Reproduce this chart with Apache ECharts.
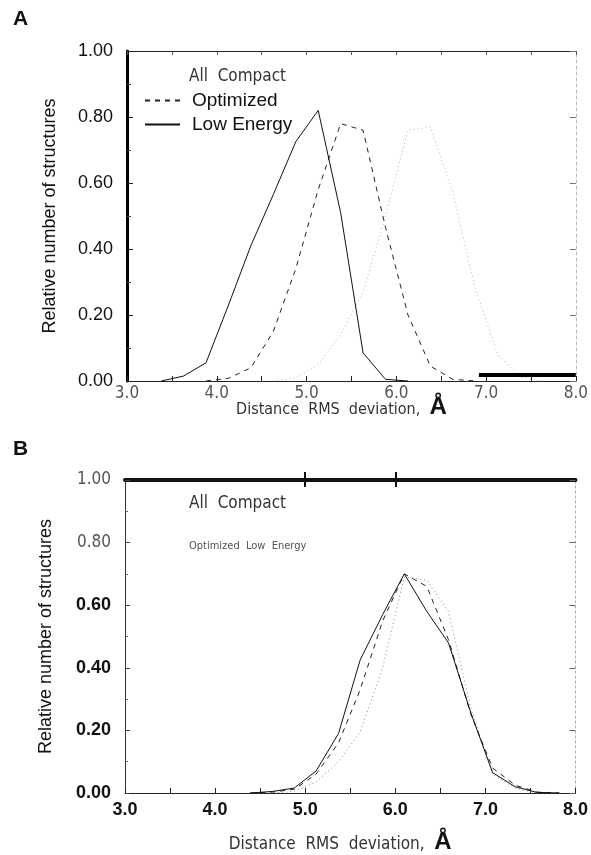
<!DOCTYPE html>
<html>
<head>
<meta charset="utf-8">
<script src="https://cdn.jsdelivr.net/npm/echarts@6/dist/echarts.min.js"></script>
<style>html,body{margin:0;padding:0;background:#fff;}#c{width:591px;height:855px;}</style>
</head>
<body>
<div id="c"></div>
<script>
// ---------- Data ----------
// Panel A
const aLowX = [3.38,3.63,3.88,4.13,4.38,4.63,4.88,5.13,5.38,5.63,5.88,6.13];
const aLowY = [0,0.015,0.055,0.23,0.41,0.565,0.725,0.82,0.51,0.085,0.005,0];
const aOptX = [3.88,4.13,4.38,4.63,4.88,5.13,5.38,5.63,5.88,6.13,6.38,6.63,6.88];
const aOptY = [0,0.008,0.04,0.15,0.34,0.58,0.78,0.76,0.465,0.2,0.045,0.005,0];
const aAllX = [4.63,4.88,5.13,5.38,5.63,5.88,6.13,6.38,6.63,6.88,7.13,7.38,7.63];
const aAllY = [0,0.01,0.05,0.14,0.27,0.50,0.76,0.77,0.57,0.28,0.08,0.012,0];
// Panel B
const bX   = [4.39,4.64,4.88,5.12,5.37,5.61,5.86,6.10,6.35,6.59,6.84,7.08,7.33,7.57,7.82];
const bLow = [0,0.005,0.016,0.07,0.19,0.425,0.57,0.70,0.58,0.48,0.255,0.065,0.02,0.002,0];
const bOpt = [0,0.003,0.012,0.06,0.16,0.33,0.55,0.70,0.66,0.49,0.25,0.08,0.025,0.003,0];
const bAll = [0,0,0.005,0.035,0.10,0.195,0.40,0.69,0.68,0.58,0.27,0.06,0.015,0,0];
// Axis / text
const xMin = 3.0, xMax = 8.0, xStep = 0.5;
const yMin = 0, yMax = 1.0, yStep = 0.2;
const seriesNames = ['All Compact','Optimized','Low Energy'];
const xTitle = 'Distance  RMS  deviation,  ';
const yTitle = 'Relative number of structures';

const pairs = (xs, ys) => xs.map((x, i) => [x, ys[i]]);

const NARROW = "'Liberation Sans Narrow','DejaVu Sans Condensed','Roboto Condensed','Noto Sans',sans-serif";
const ARIAL = "'Liberation Sans',Arial,Helvetica,sans-serif";

const lineStyles = {
  'All Compact': {color:'#8a8a8a', width:1, type:[1,3]},
  'Optimized':   {color:'#222', width:1, type:[5,5]},
  'Low Energy':  {color:'#111', width:1, type:'solid'}
};

function mkSeries(name, data, xi, yi, extra) {
  return Object.assign({
    name, type:'line', data, xAxisIndex:xi, yAxisIndex:yi,
    symbol:'none', showSymbol:false, smooth:false, silent:true,
    lineStyle: Object.assign({}, lineStyles[name]), itemStyle:{color: lineStyles[name].color},
    animation:false, z:3
  }, extra || {});
}

const intLabel = v => (Math.abs(v - Math.round(v)) < 1e-6) ? v.toFixed(1) : '';

const xTitleRich = {
  a: {fontFamily: ARIAL, fontWeight:'bold', fontSize:24, color:'#111', padding:[0,0,6,0]}
};

const option = {
  animation:false,
  backgroundColor:'#fff',
  grid:[
    {left:127, top:51, width:450, height:330},
    {left:125, top:480, width:451, height:322}
  ],
  legend:{
    data:['Optimized','Low Energy'],
    orient:'vertical', left:139, top:86,
    itemWidth:35, itemHeight:12, itemGap:5,
    itemStyle:{opacity:0},
    textStyle:{fontFamily:ARIAL, fontSize:19, color:'#111', padding:[0,0,0,7]},
    selectedMode:false
  },
  xAxis:[
    {gridIndex:0, type:'value', position:'bottom', min:xMin, max:xMax, interval:xStep,
     axisLine:{onZero:false, lineStyle:{color:'#222', width:1}},
     axisTick:{inside:true, length:5, lineStyle:{color:'#222'}},
     splitLine:{show:false},
     axisLabel:{formatter:intLabel, margin:4, fontFamily:NARROW, fontSize:17, color:'#555'},
     name: xTitle + '{a|Å}', nameLocation:'middle', nameGap:14, nameMoveOverlap:false,
     nameTextStyle:{fontFamily:NARROW, fontSize:16, color:'#333', padding:[0,20,0,0], rich:xTitleRich}},
    {gridIndex:0, type:'value', position:'top', min:xMin, max:xMax, interval:xStep,
     axisLine:{onZero:false, lineStyle:{color:'#222', width:1}},
     axisTick:{inside:true, length:4, lineStyle:{color:'#555'}},
     axisLabel:{show:false}, splitLine:{show:false}},
    {gridIndex:1, type:'value', position:'bottom', min:xMin, max:xMax, interval:xStep,
     axisLine:{onZero:false, lineStyle:{color:'#222', width:1}},
     axisTick:{inside:true, length:5, lineStyle:{color:'#222'}},
     splitLine:{show:false},
     axisLabel:{formatter:intLabel, margin:8, fontFamily:ARIAL, fontWeight:'bold', fontSize:18, color:'#111'},
     name: xTitle + '{a|Å}', nameLocation:'middle', nameGap:37,
     nameTextStyle:{fontFamily:NARROW, fontSize:17, color:'#333', padding:[0,20,0,0], rich:xTitleRich}},
    {gridIndex:1, type:'value', position:'top', min:xMin, max:xMax,
     axisLine:{onZero:false, lineStyle:{color:'#111', width:4}},
     axisTick:{show:true, customValues:[5,6], length:8, lineStyle:{color:'#111', width:2}},
     axisLabel:{show:false}, splitLine:{show:false}},
    {gridIndex:1, type:'value', position:'top', min:xMin, max:xMax,
     axisLine:{show:false, onZero:false},
     axisTick:{show:true, inside:true, customValues:[5,6], length:7, lineStyle:{color:'#111', width:2}},
     axisLabel:{show:false}, splitLine:{show:false}}
  ],
  yAxis:[
    {gridIndex:0, type:'value', position:'left', min:yMin, max:yMax, interval:yStep,
     axisLine:{show:true, onZero:false, lineStyle:{color:'#000', width:3}},
     axisTick:{inside:true, length:6, lineStyle:{color:'#222'}},
     minorTick:{show:true, splitNumber:2, length:4, lineStyle:{color:'#444'}},
     splitLine:{show:false},
     axisLabel:{formatter:v => v.toFixed(2), margin:14, fontFamily:ARIAL, fontSize:18, color:'#111'},
     name:yTitle, nameLocation:'middle', nameGap:68, nameRotate:90,
     nameTextStyle:{fontFamily:ARIAL, fontSize:18, color:'#111'}},
    {gridIndex:0, type:'value', position:'right', min:yMin, max:yMax, interval:yStep,
     axisLine:{show:true, onZero:false, lineStyle:{color:'#bbb', width:1, type:[3,3]}},
     axisTick:{inside:true, length:6, lineStyle:{color:'#777'}},
     axisLabel:{show:false}, splitLine:{show:false}},
    {gridIndex:1, type:'value', position:'left', min:yMin, max:yMax, interval:yStep,
     axisLine:{show:true, onZero:false, lineStyle:{color:'#333', width:1}},
     axisTick:{inside:true, length:5, lineStyle:{color:'#444'}},
     minorTick:{show:true, splitNumber:2, length:3, lineStyle:{color:'#666'}},
     splitLine:{show:false},
     axisLabel:{margin:14,
       formatter:v => (v >= 0.79 ? '{n|' : '{b|') + v.toFixed(2) + '}',
       rich:{
         n:{fontFamily:NARROW, fontSize:17, color:'#555'},
         b:{fontFamily:ARIAL, fontWeight:'bold', fontSize:18, color:'#111'}
       }},
     name:yTitle, nameLocation:'middle', nameGap:70, nameRotate:90,
     nameTextStyle:{fontFamily:ARIAL, fontSize:18, color:'#111'}},
    {gridIndex:1, type:'value', position:'right', min:yMin, max:yMax, interval:yStep,
     axisLine:{show:true, onZero:false, lineStyle:{color:'#aaa', width:1, type:[2,3]}},
     axisTick:{inside:true, length:6, lineStyle:{color:'#666'}},
     axisLabel:{show:false}, splitLine:{show:false}}
  ],
  series:[
    mkSeries('All Compact', pairs(aAllX, aAllY), 0, 0, {
      lineStyle:{color:'#b5b5b5', width:1, type:[1,3]},
      markLine:{silent:true, symbol:'none', animation:false, label:{show:false},
        lineStyle:{color:'#000', width:4, type:'solid'},
        data:[[{coord:[6.92,0.02]},{coord:[8.0,0.02]}]]}
    }),
    mkSeries('Optimized', pairs(aOptX, aOptY), 0, 0),
    mkSeries('Low Energy', pairs(aLowX, aLowY), 0, 0),
    mkSeries('All Compact', pairs(bX, bAll), 2, 2),
    mkSeries('Optimized', pairs(bX, bOpt), 2, 2),
    mkSeries('Low Energy', pairs(bX, bLow), 2, 2)
  ],
  graphic:[
    {type:'text', left:13, top:9, style:{text:'A', fontFamily:ARIAL, fontWeight:'bold', fontSize:21, fill:'#111'}},
    {type:'text', left:13, top:439, style:{text:'B', fontFamily:ARIAL, fontWeight:'bold', fontSize:21, fill:'#111'}},
    {type:'text', left:189, top:68, style:{text:'All  Compact', fontFamily:NARROW, fontSize:17, fill:'#333'}},
    {type:'text', left:189, top:495, style:{text:'All  Compact', fontFamily:NARROW, fontSize:17, fill:'#333'}},
    {type:'text', left:189, top:541, style:{text:'Optimized  Low  Energy', fontFamily:NARROW, fontSize:11, fill:'#555'}}
  ]
};

const chart = echarts.init(document.getElementById('c'), null, {renderer:'canvas'});
chart.setOption(option);
</script>
</body>
</html>
